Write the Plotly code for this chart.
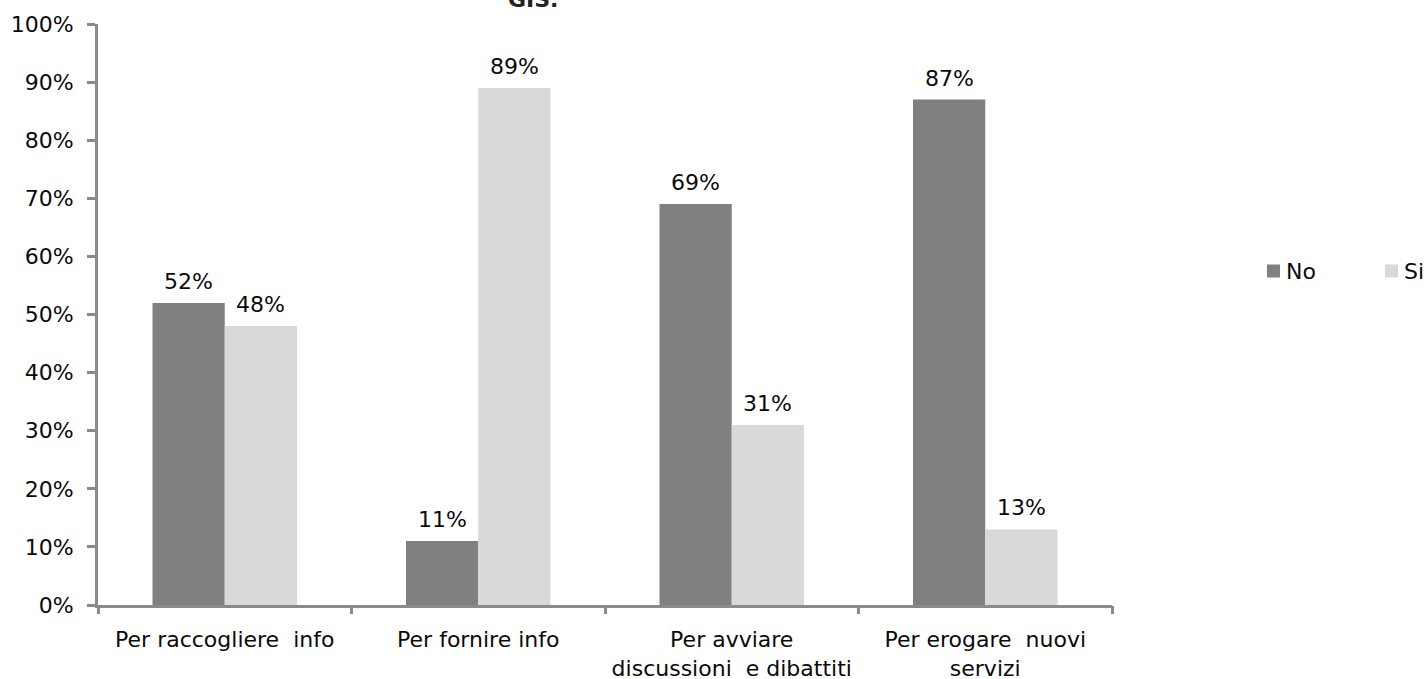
import plotly.graph_objects as go

# Data
categories = [
    "Per raccogliere \u00a0info",
    "Per fornire info",
    "Per avviare<br>discussioni \u00a0e dibattiti",
    "Per erogare \u00a0nuovi<br>servizi",
]
series_names = ["No", "Si"]
no_values = [0.52, 0.11, 0.69, 0.87]
si_values = [0.48, 0.89, 0.31, 0.13]
y_ticks = [i / 10 for i in range(11)]
y_tick_labels = [f"{i * 10}%" for i in range(11)]

FONT = "DejaVu Sans, Verdana, sans-serif"
FS = 22
TEXT_COLOR = "#0a0a0a"
AXIS_COLOR = "#8a8a8a"
COLORS = ["#808080", "#d9d9d9"]
BARGAP = 0.43

W, H = 1426, 679
M = dict(l=98, r=314, t=24, b=74)
PW = W - M["l"] - M["r"]
PH = H - M["t"] - M["b"]


def px_x(px):
    """Pixel column -> paper x."""
    return (px - M["l"]) / PW


def px_y(py):
    """Pixel row -> paper y."""
    return (H - M["b"] - py) / PH


fig = go.Figure()
for name, vals, col in zip(series_names, [no_values, si_values], COLORS):
    fig.add_trace(go.Bar(name=name, x=list(range(len(categories))), y=vals,
                         marker=dict(color=col, line=dict(width=0)),
                         showlegend=False))

# Value labels above each bar
half = (1 - BARGAP) / 4
annotations = []
for i, (a, b) in enumerate(zip(no_values, si_values)):
    for xo, v in ((i - half, a), (i + half, b)):
        annotations.append(dict(
            x=xo, y=v, xref="x", yref="y", text=f"{round(v * 100)}%",
            showarrow=False, yanchor="bottom", yshift=7,
            font=dict(family=FONT, size=FS, color=TEXT_COLOR),
        ))

# Title (its upper part lies beyond the top edge)
annotations.append(dict(
    x=0.429, xref="paper", y=1, yref="paper", text="<b>GIS.</b>",
    showarrow=False, yanchor="bottom", yshift=10,
    font=dict(family=FONT, size=22, color="#222222"),
))

# Legend: swatch + label for each series, laid out to the right of the plot
shapes = []
legend_x = [1267, 1385]
legend_cy = 271
sw = 13
for name, col, lx in zip(series_names, COLORS, legend_x):
    shapes.append(dict(
        type="rect", xref="paper", yref="paper",
        x0=px_x(lx), x1=px_x(lx + sw),
        y0=px_y(legend_cy + sw / 2), y1=px_y(legend_cy - sw / 2),
        fillcolor=col, line=dict(width=0),
    ))
    annotations.append(dict(
        x=px_x(lx + sw + 4), y=px_y(legend_cy), xref="paper", yref="paper",
        text=name, showarrow=False, xanchor="left", yanchor="middle",
        font=dict(family=FONT, size=FS, color=TEXT_COLOR),
    ))

fig.update_layout(
    width=W, height=H,
    margin=dict(**M, autoexpand=False),
    paper_bgcolor="white", plot_bgcolor="white",
    barmode="group", bargap=BARGAP, bargroupgap=0,
    font=dict(family=FONT, size=FS, color=TEXT_COLOR),
    showlegend=False,
    annotations=annotations,
    shapes=shapes,
    xaxis=dict(
        tickmode="array", tickvals=list(range(len(categories))), ticktext=categories,
        range=[-0.5, len(categories) - 0.5],
        showline=True, linecolor=AXIS_COLOR, linewidth=3,
        ticks="", showgrid=False, zeroline=False, ticklabelstandoff=13,
        tickfont=dict(family=FONT, size=FS, color=TEXT_COLOR),
    ),
    yaxis=dict(
        range=[0, 1], tickvals=y_ticks, ticktext=y_tick_labels,
        showline=True, linecolor=AXIS_COLOR, linewidth=3,
        ticks="outside", ticklen=8, tickwidth=3, tickcolor=AXIS_COLOR,
        showgrid=False, zeroline=False, ticklabelstandoff=9,
        tickfont=dict(family=FONT, size=FS, color=TEXT_COLOR),
    ),
)

# Category boundary ticks on the x axis
fig.update_layout(xaxis2=dict(
    overlaying="x", range=[-0.5, len(categories) - 0.5],
    tickvals=[i - 0.5 for i in range(len(categories) + 1)],
    ticktext=["" for _ in range(len(categories) + 1)],
    ticks="outside", ticklen=8, tickwidth=3, tickcolor=AXIS_COLOR,
    showgrid=False, zeroline=False, showline=False, side="bottom", anchor="y",
))
fig.add_trace(go.Scatter(x=[None], y=[None], xaxis="x2", showlegend=False, hoverinfo="skip"))

fig.write_html("out.html")
